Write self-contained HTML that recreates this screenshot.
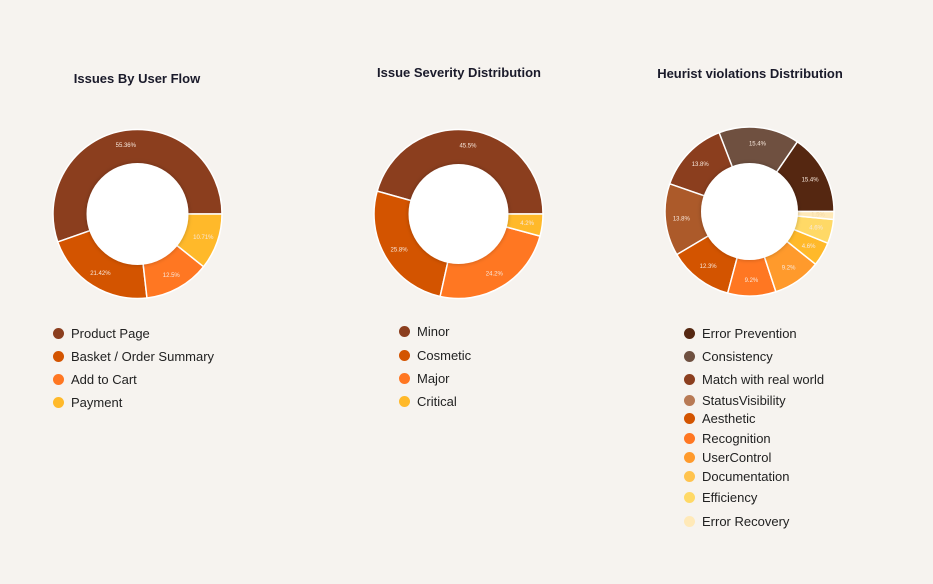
<!DOCTYPE html>
<html><head><meta charset="utf-8"><style>
body{margin:0;width:933px;height:584px;background:#f6f3ef;font-family:"Liberation Sans",sans-serif;overflow:hidden;position:relative}
.t{position:absolute;font-weight:bold;font-size:13px;color:#1a1a2a;transform:translateX(-50%);white-space:nowrap}
.lg{position:absolute;font-size:13px;color:#222;white-space:nowrap}
.lg span{position:absolute;left:0;width:11px;height:11px;border-radius:50%;top:2px}
.lg b{font-weight:normal;position:absolute;left:18px;top:0}
</style></head><body>
<div class="t" style="left:137px;top:71px">Issues By User Flow</div>
<div class="t" style="left:459px;top:65px">Issue Severity Distribution</div>
<div class="t" style="left:750px;top:66px">Heurist violations Distribution</div>
<svg id="svg" width="933" height="584" style="position:absolute;left:0;top:0">
<defs><filter id="sh" x="-30%" y="-30%" width="160%" height="160%"><feDropShadow dx="0" dy="0" stdDeviation="2" flood-color="#000" flood-opacity="0.25"/></filter></defs>
</svg>
<div id="legends"></div>
<script>
const flowLabels=["Product Page","Basket / Order Summary","Add to Cart","Payment"];
const flowValues=[55.36,21.42,12.5,10.71];
const flowColors=["#8b3e1e","#d35400","#ff7722","#ffb92a"];
const sevLabels=["Minor","Cosmetic","Major","Critical"];
const sevValues=[45.5,25.8,24.2,4.2];
const sevColors=["#8b3e1e","#d35400","#ff7722","#ffb92a"];
const heurLabels=["Error Prevention","Consistency","Match with real world","StatusVisibility","Aesthetic","Recognition","UserControl","Documentation","Efficiency","Error Recovery"];
const heurValues=[15.4,15.4,13.8,13.8,12.3,9.2,9.2,4.6,4.6,1.5];
const heurColors=["#552711","#6f5040","#8b3e1e","#ac5a2a","#d35400","#ff7722","#ff9a2c","#ffb92a","#ffd966","#ffe9b8"];
const legendColors=["#552711","#6f5040","#8b3e1e","#b87a55","#d35400","#ff7722","#ff9a2c","#ffc34d","#ffd966","#ffe9b8"];
const NS="http://www.w3.org/2000/svg";
const svg=document.getElementById('svg');
function donut(name,cx,cy,R,r,vals,cols){
  const tot=vals.reduce((a,b)=>a+b,0);
  let a0=0;
  const g=document.createElementNS(NS,'g');
  
  
  svg.appendChild(g);
  vals.forEach((v,i)=>{
    const a1=a0+v/tot*2*Math.PI;
    const p=(a)=>[cx+R*Math.cos(a),cy-R*Math.sin(a)];
    const [x0,y0]=p(a0),[x1,y1]=p(a1);
    const large=(a1-a0)>Math.PI?1:0;
    const path=document.createElementNS(NS,'path');
    path.setAttribute('d',`M${cx},${cy}L${x0},${y0}A${R},${R} 0 ${large} 0 ${x1},${y1}Z`);
    path.setAttribute('fill',cols[i]);
    path.setAttribute('stroke','#fff');
    path.setAttribute('stroke-width','1.5');
    
    
    g.appendChild(path);
    const am=(a0+a1)/2,lr=(R+r)/2+2;
    const t=document.createElementNS(NS,'text');
    t.setAttribute('x',cx+lr*Math.cos(am));
    t.setAttribute('y',cy-lr*Math.sin(am)+2);
    t.setAttribute('text-anchor','middle');
    t.setAttribute('font-size','6');
    t.setAttribute('fill',i===vals.length-1&&name==='donut-heuristic'?'#f5d9a8':'#f8e8dc');
    
    
    t.textContent=v+'%';
    g.appendChild(t);
    a0=a1;
  });
  const c=document.createElementNS(NS,'circle');
  c.setAttribute('cx',cx);c.setAttribute('cy',cy);c.setAttribute('r',r);
  c.setAttribute('fill','#fff');c.setAttribute('filter','url(#sh)');
  
  
  g.appendChild(c);
}
donut('donut-user-flow',137.5,214,84.5,51,flowValues,flowColors);
donut('donut-severity',458.5,214,84.5,50,sevValues,sevColors);
donut('donut-heuristic',749.5,211.5,84.5,48.5,heurValues,heurColors);
const L=document.getElementById('legends');
function legend(x,ys,labels,cols,name){
  labels.forEach((lab,i)=>{
    const d=document.createElement('div');
    d.className='lg';
    d.style.left=x+'px';d.style.top=(ys[i]-7)+'px';
    
    
    d.innerHTML='<span style="background:'+cols[i]+'"></span><b>'+lab+'</b>';
    L.appendChild(d);
  });
}
legend(53,[333,356,379,402],flowLabels,flowColors,'legend-user-flow');
legend(399,[331,355,378,401],sevLabels,sevColors,'legend-severity');
legend(684,[333,356,379,400,418,438,457,476,497,521],heurLabels,legendColors,'legend-heuristic');
</script>
</body></html>
